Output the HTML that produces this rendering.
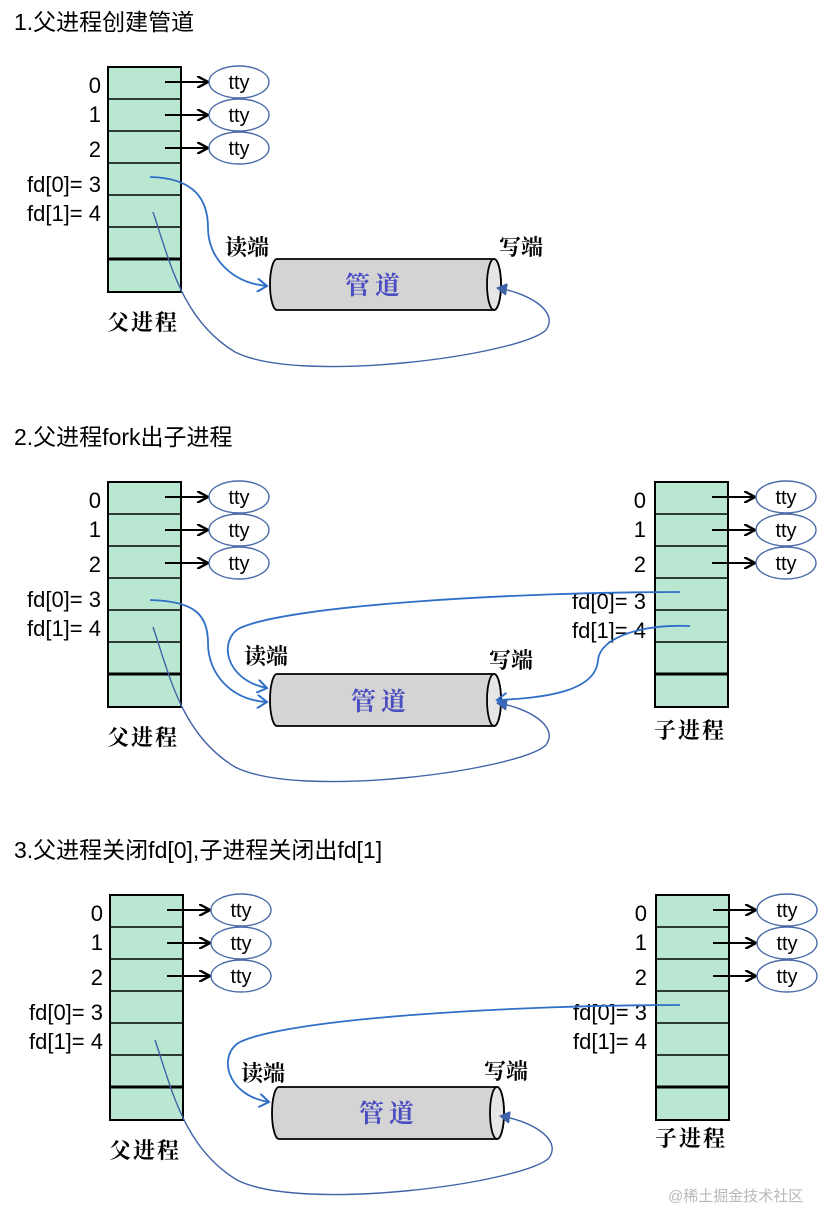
<!DOCTYPE html>
<html><head><meta charset="utf-8"><style>
html,body{margin:0;padding:0;background:#fff}
svg{display:block}
.t{font-family:"Liberation Sans","Noto Sans CJK SC",sans-serif;font-size:22px;fill:#000}
.h{font-family:"Liberation Sans","Noto Sans CJK SC",sans-serif;font-size:23px;fill:#000}
.c{font-family:"Noto Serif CJK SC","Noto Sans CJK SC",serif;font-weight:bold;font-size:22px;fill:#000}
.p{font-family:"Noto Serif CJK SC","Noto Sans CJK SC",serif;font-weight:bold;font-size:25px;fill:#4a4ec0}
.tt{font-family:"Liberation Sans",sans-serif;font-size:20px;fill:#000}
</style></head><body>
<svg width="828" height="1211" viewBox="0 0 828 1211" xmlns="http://www.w3.org/2000/svg">
<defs>
<marker id="ab" markerWidth="12" markerHeight="12" refX="10" refY="6" orient="auto" markerUnits="userSpaceOnUse"><path d="M0,0 L11,6 L0,12" fill="none" stroke="#000" stroke-width="2.4"/></marker>
<marker id="ub" markerWidth="12" markerHeight="14" refX="10" refY="7" orient="auto" markerUnits="userSpaceOnUse"><path d="M0,0 L10,7 L0,14" fill="none" stroke="#2f6fc8" stroke-width="2"/></marker>
<marker id="ud" markerWidth="12" markerHeight="12" refX="10" refY="6" orient="auto" markerUnits="userSpaceOnUse"><path d="M0,0 L10,6 L0,12 Z" fill="#3f62a8" stroke="#3f62a8" stroke-width="1"/></marker>
</defs>

<text x="14" y="30" class="h">1.父进程创建管道</text>
<text x="14" y="445" class="h">2.父进程fork出子进程</text>
<text x="14" y="858" class="h">3.父进程关闭fd[0],子进程关闭出fd[1]</text>

<!-- Section 1 parent -->
<g transform="translate(0,0)">
<rect x="108" y="67" width="73" height="225" fill="#b9e7d2" stroke="#000" stroke-width="2"/>
<g stroke="#000" stroke-width="1.6"><line x1="108" y1="99" x2="181" y2="99"/><line x1="108" y1="131" x2="181" y2="131"/><line x1="108" y1="163" x2="181" y2="163"/><line x1="108" y1="195" x2="181" y2="195"/><line x1="108" y1="227" x2="181" y2="227"/></g>
<line x1="108" y1="259" x2="181" y2="259" stroke="#000" stroke-width="3"/>
<g class="t" text-anchor="end"><text x="101" y="93">0</text><text x="101" y="122">1</text><text x="101" y="157">2</text><text x="101" y="192">fd[0]= 3</text><text x="101" y="221">fd[1]= 4</text></g>
<g stroke="#000" stroke-width="2" marker-end="url(#ab)"><line x1="165" y1="82" x2="207" y2="82"/><line x1="165" y1="115" x2="207" y2="115"/><line x1="165" y1="148" x2="207" y2="148"/></g>
<g fill="#fff" stroke="#4a6aa8" stroke-width="1.4"><ellipse cx="239" cy="82" rx="30" ry="16"/><ellipse cx="239" cy="115" rx="30" ry="16"/><ellipse cx="239" cy="148" rx="30" ry="16"/></g>
<g class="tt" text-anchor="middle"><text x="239" y="89">tty</text><text x="239" y="122">tty</text><text x="239" y="155">tty</text></g>
<text x="107" y="330" class="c" letter-spacing="2">父进程</text>
</g>

<!-- Section 2 parent -->
<g transform="translate(0,415)">
<rect x="108" y="67" width="73" height="225" fill="#b9e7d2" stroke="#000" stroke-width="2"/>
<g stroke="#000" stroke-width="1.6"><line x1="108" y1="99" x2="181" y2="99"/><line x1="108" y1="131" x2="181" y2="131"/><line x1="108" y1="163" x2="181" y2="163"/><line x1="108" y1="195" x2="181" y2="195"/><line x1="108" y1="227" x2="181" y2="227"/></g>
<line x1="108" y1="259" x2="181" y2="259" stroke="#000" stroke-width="3"/>
<g class="t" text-anchor="end"><text x="101" y="93">0</text><text x="101" y="122">1</text><text x="101" y="157">2</text><text x="101" y="192">fd[0]= 3</text><text x="101" y="221">fd[1]= 4</text></g>
<g stroke="#000" stroke-width="2" marker-end="url(#ab)"><line x1="165" y1="82" x2="207" y2="82"/><line x1="165" y1="115" x2="207" y2="115"/><line x1="165" y1="148" x2="207" y2="148"/></g>
<g fill="#fff" stroke="#4a6aa8" stroke-width="1.4"><ellipse cx="239" cy="82" rx="30" ry="16"/><ellipse cx="239" cy="115" rx="30" ry="16"/><ellipse cx="239" cy="148" rx="30" ry="16"/></g>
<g class="tt" text-anchor="middle"><text x="239" y="89">tty</text><text x="239" y="122">tty</text><text x="239" y="155">tty</text></g>
<text x="107" y="330" class="c" letter-spacing="2">父进程</text>
</g>

<!-- Section 2 child -->
<g transform="translate(547,415)">
<rect x="108" y="67" width="73" height="225" fill="#b9e7d2" stroke="#000" stroke-width="2"/>
<g stroke="#000" stroke-width="1.6"><line x1="108" y1="99" x2="181" y2="99"/><line x1="108" y1="131" x2="181" y2="131"/><line x1="108" y1="163" x2="181" y2="163"/><line x1="108" y1="195" x2="181" y2="195"/><line x1="108" y1="227" x2="181" y2="227"/></g>
<line x1="108" y1="259" x2="181" y2="259" stroke="#000" stroke-width="3"/>
<g class="t" text-anchor="end"><text x="99" y="93">0</text><text x="99" y="122">1</text><text x="99" y="157">2</text><text x="99" y="194">fd[0]= 3</text><text x="99" y="223">fd[1]= 4</text></g>
<g stroke="#000" stroke-width="2" marker-end="url(#ab)"><line x1="165" y1="82" x2="207" y2="82"/><line x1="165" y1="115" x2="207" y2="115"/><line x1="165" y1="148" x2="207" y2="148"/></g>
<g fill="#fff" stroke="#4a6aa8" stroke-width="1.4"><ellipse cx="239" cy="82" rx="30" ry="16"/><ellipse cx="239" cy="115" rx="30" ry="16"/><ellipse cx="239" cy="148" rx="30" ry="16"/></g>
<g class="tt" text-anchor="middle"><text x="239" y="89">tty</text><text x="239" y="122">tty</text><text x="239" y="155">tty</text></g>
<text x="107" y="323" class="c" letter-spacing="2">子进程</text>
</g>

<!-- Section 3 parent -->
<g transform="translate(2,828)">
<rect x="108" y="67" width="73" height="225" fill="#b9e7d2" stroke="#000" stroke-width="2"/>
<g stroke="#000" stroke-width="1.6"><line x1="108" y1="99" x2="181" y2="99"/><line x1="108" y1="131" x2="181" y2="131"/><line x1="108" y1="163" x2="181" y2="163"/><line x1="108" y1="195" x2="181" y2="195"/><line x1="108" y1="227" x2="181" y2="227"/></g>
<line x1="108" y1="259" x2="181" y2="259" stroke="#000" stroke-width="3"/>
<g class="t" text-anchor="end"><text x="101" y="93">0</text><text x="101" y="122">1</text><text x="101" y="157">2</text><text x="101" y="192">fd[0]= 3</text><text x="101" y="221">fd[1]= 4</text></g>
<g stroke="#000" stroke-width="2" marker-end="url(#ab)"><line x1="165" y1="82" x2="207" y2="82"/><line x1="165" y1="115" x2="207" y2="115"/><line x1="165" y1="148" x2="207" y2="148"/></g>
<g fill="#fff" stroke="#4a6aa8" stroke-width="1.4"><ellipse cx="239" cy="82" rx="30" ry="16"/><ellipse cx="239" cy="115" rx="30" ry="16"/><ellipse cx="239" cy="148" rx="30" ry="16"/></g>
<g class="tt" text-anchor="middle"><text x="239" y="89">tty</text><text x="239" y="122">tty</text><text x="239" y="155">tty</text></g>
<text x="107" y="330" class="c" letter-spacing="2">父进程</text>
</g>

<!-- Section 3 child -->
<g transform="translate(548,828)">
<rect x="108" y="67" width="73" height="225" fill="#b9e7d2" stroke="#000" stroke-width="2"/>
<g stroke="#000" stroke-width="1.6"><line x1="108" y1="99" x2="181" y2="99"/><line x1="108" y1="131" x2="181" y2="131"/><line x1="108" y1="163" x2="181" y2="163"/><line x1="108" y1="195" x2="181" y2="195"/><line x1="108" y1="227" x2="181" y2="227"/></g>
<line x1="108" y1="259" x2="181" y2="259" stroke="#000" stroke-width="3"/>
<g class="t" text-anchor="end"><text x="99" y="93">0</text><text x="99" y="122">1</text><text x="99" y="157">2</text><text x="99" y="192">fd[0]= 3</text><text x="99" y="221">fd[1]= 4</text></g>
<g stroke="#000" stroke-width="2" marker-end="url(#ab)"><line x1="165" y1="82" x2="207" y2="82"/><line x1="165" y1="115" x2="207" y2="115"/><line x1="165" y1="148" x2="207" y2="148"/></g>
<g fill="#fff" stroke="#4a6aa8" stroke-width="1.4"><ellipse cx="239" cy="82" rx="30" ry="16"/><ellipse cx="239" cy="115" rx="30" ry="16"/><ellipse cx="239" cy="148" rx="30" ry="16"/></g>
<g class="tt" text-anchor="middle"><text x="239" y="89">tty</text><text x="239" y="122">tty</text><text x="239" y="155">tty</text></g>
<text x="107" y="318" class="c" letter-spacing="2">子进程</text>
</g>

<!-- Pipes -->
<g stroke="#000" stroke-width="1.8">
<path d="M277,259 L494,259 A7,25.5 0 0 1 494,310 L277,310 A7,25.5 0 0 1 277,259 Z" fill="#d4d4d4"/>
<ellipse cx="494" cy="284.5" rx="7" ry="25.5" fill="#e6e6e6"/>
<path d="M277,674 L494,674 A7,26 0 0 1 494,726 L277,726 A7,26 0 0 1 277,674 Z" fill="#d4d4d4"/>
<ellipse cx="494" cy="700" rx="7" ry="26" fill="#e6e6e6"/>
<path d="M279,1087 L497,1087 A7,26 0 0 1 497,1139 L279,1139 A7,26 0 0 1 279,1087 Z" fill="#d4d4d4"/>
<ellipse cx="497" cy="1113" rx="7" ry="26" fill="#e6e6e6"/>
</g>
<text x="345" y="294" class="p" letter-spacing="5">管道</text>
<text x="351" y="710" class="p" letter-spacing="5">管道</text>
<text x="359" y="1122" class="p" letter-spacing="5">管道</text>

<g class="c">
<text x="225" y="255">读端</text><text x="499" y="255">写端</text>
<text x="244" y="664">读端</text><text x="489" y="668">写端</text>
<text x="241" y="1081">读端</text><text x="484" y="1079">写端</text>
</g>

<!-- Curves section 1 -->
<path d="M150,177 C195,178 208,200 208,228 C208,258 232,283 267,286" fill="none" stroke="#2f6fc8" stroke-width="1.8" marker-end="url(#ub)"/>
<path d="M153,212 C170,262 182,320 235,352 C300,385 520,355 546,330 C560,310 525,292 497,288" fill="none" stroke="#3f62a8" stroke-width="1.4" marker-end="url(#ud)"/>

<!-- Curves section 2 -->
<path d="M150,600 C195,601 208,615 208,643 C208,675 232,700 267,702" fill="none" stroke="#2f6fc8" stroke-width="1.8" marker-end="url(#ub)"/>
<path d="M153,627 C170,677 182,735 235,767 C300,800 520,770 546,745 C560,725 525,707 497,703" fill="none" stroke="#3f62a8" stroke-width="1.4" marker-end="url(#ud)"/>
<path d="M680,592 C520,592 290,605 240,628 C218,640 225,680 267,688" fill="none" stroke="#2f6fc8" stroke-width="1.8" marker-end="url(#ub)"/>
<path d="M690,626 C640,624 600,638 598,660 C596,690 550,698 497,700" fill="none" stroke="#2f6fc8" stroke-width="1.8" marker-end="url(#ub)"/>

<!-- Curves section 3 -->
<path d="M155,1040 C172,1090 184,1148 237,1180 C302,1213 523,1183 549,1158 C563,1138 528,1120 500,1116" fill="none" stroke="#3f62a8" stroke-width="1.4" marker-end="url(#ud)"/>
<path d="M680,1005 C520,1005 290,1018 240,1042 C218,1054 225,1095 269,1102" fill="none" stroke="#2f6fc8" stroke-width="1.8" marker-end="url(#ub)"/>

<text x="668" y="1201" font-family="Liberation Sans,Noto Sans CJK SC,sans-serif" font-size="15" fill="#b8b8b8">@稀土掘金技术社区</text>
</svg>
</body></html>
